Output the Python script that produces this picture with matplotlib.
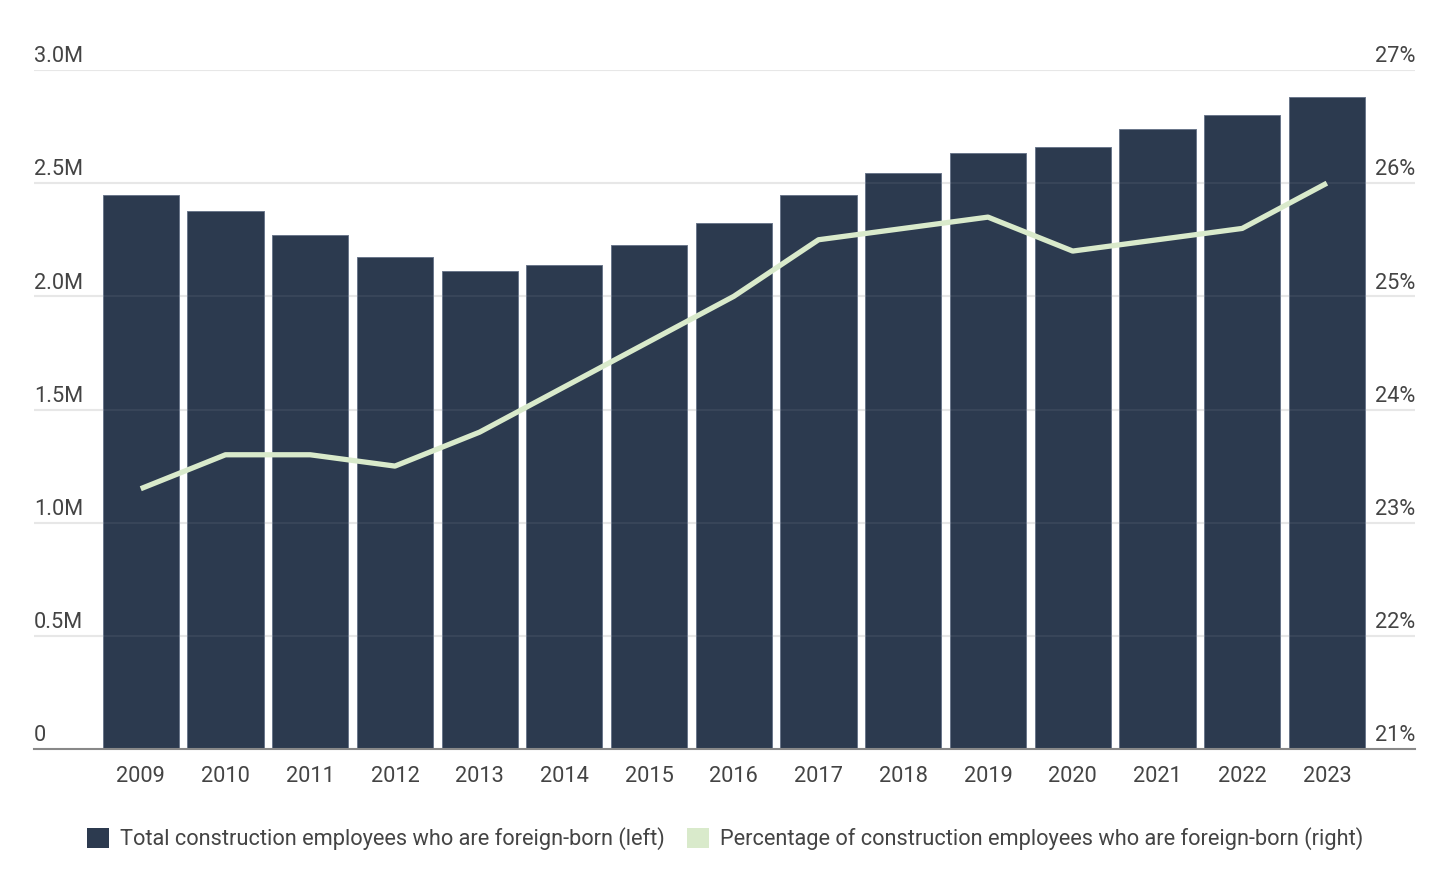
import numpy as np
import matplotlib.pyplot as plt
from matplotlib.patches import Patch
from matplotlib.transforms import blended_transform_factory

plt.rcParams['font.family'] = ['Roboto', 'DejaVu Sans']

# Data
years = ['2009', '2010', '2011', '2012', '2013', '2014', '2015', '2016',
         '2017', '2018', '2019', '2020', '2021', '2022', '2023']
employees = [2.448, 2.377, 2.271, 2.174, 2.112, 2.139, 2.227, 2.324,
             2.448, 2.545, 2.634, 2.660, 2.740, 2.802, 2.881]  # millions
pct_foreign = [23.3, 23.6, 23.6, 23.5, 23.8, 24.2, 24.6, 25.0,
               25.5, 25.6, 25.7, 25.4, 25.5, 25.6, 26.0]

left_ticks = [0, 0.5, 1.0, 1.5, 2.0, 2.5, 3.0]
left_labels = ['0', '0.5M', '1.0M', '1.5M', '2.0M', '2.5M', '3.0M']
right_ticks = [21, 22, 23, 24, 25, 26, 27]
right_labels = ['21%', '22%', '23%', '24%', '25%', '26%', '27%']

bar_color = '#2c3a4f'
line_color = '#d9eacb'
text_color = '#444444'
fs = 15.7

W, H = 1450, 875
fig = plt.figure(figsize=(W / 100, H / 100), dpi=100)
ax = fig.add_axes([34 / W, (H - 749) / H, (1415 - 34) / W, (749 - 70) / H])
ax2 = ax.twinx()

x = np.arange(len(years))

# gridlines (behind, plus a faint trace over the bars)
for t in left_ticks[1:]:
    ax.axhline(t, color='#e6e6e6', lw=1.5, zorder=0)
    ax.axhline(t, color='#ffffff', lw=1.5, alpha=0.06, zorder=2.5)

ax.bar(x, employees, width=0.9, color=bar_color, edgecolor='#6a768b',
       linewidth=0.7, zorder=2)

ax2.plot(x, pct_foreign, color=line_color, lw=3.8, zorder=3,
         solid_joinstyle='round', solid_capstyle='butt')

for a in (ax, ax2):
    a.set_xlim(-1.26, 15.04)
    for s in a.spines.values():
        s.set_visible(False)
    a.set_yticks([])
    a.tick_params(length=0)
ax.set_ylim(0, 3.0)
ax2.set_ylim(21, 27)

ax.spines['bottom'].set_visible(True)
ax.spines['bottom'].set_color('#888888')
ax.spines['bottom'].set_linewidth(1.5)
ax.spines['bottom'].set_zorder(4)

ax.set_xticks(x)
ax.set_xticklabels(years, fontsize=fs, color=text_color)
ax.tick_params(axis='x', pad=12)

# y tick labels sitting above gridlines
tl = blended_transform_factory(ax.transAxes, ax.transData)
for t, lab in zip(left_ticks, left_labels):
    ax.text(0, t + 0.012, lab, transform=tl, ha='left', va='bottom',
            fontsize=fs, color=text_color)
tr = blended_transform_factory(ax2.transAxes, ax2.transData)
for t, lab in zip(right_ticks, right_labels):
    ax2.text(1, t + 0.024, lab, transform=tr, ha='right', va='bottom',
             fontsize=fs, color=text_color)

handles = [Patch(facecolor=bar_color, edgecolor='none'),
           Patch(facecolor=line_color, edgecolor='none')]
labels = ['Total construction employees who are foreign-born (left)',
          'Percentage of construction employees who are foreign-born (right)']
leg = fig.legend(handles, labels, loc='center', bbox_to_anchor=(0.5, 1 - 839 / H),
                 ncol=2, frameon=False, fontsize=fs, handlelength=1.0,
                 handleheight=1.0, handletextpad=0.5, columnspacing=1.05)
for txt in leg.get_texts():
    txt.set_color(text_color)

fig.savefig('out.png', dpi=100)
